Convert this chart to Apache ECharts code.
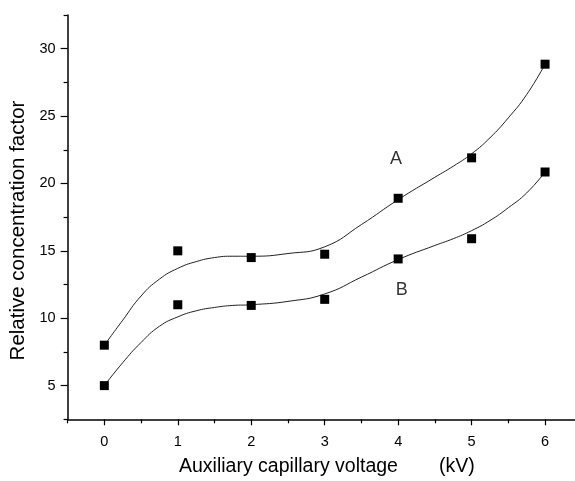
<!DOCTYPE html>
<html>
<head>
<meta charset="utf-8">
<script src="https://cdn.jsdelivr.net/npm/echarts@6/dist/echarts.min.js"></script>
<style>
html,body{margin:0;padding:0;background:#fff;}
#c{width:575px;height:481px;}
</style>
</head>
<body>
<div id="c"></div>
<script>
// measured points
const voltages = [0, 1, 2, 3, 4, 5, 6];
const seriesA = [8.0, 15.0, 14.5, 14.75, 18.9, 21.9, 28.85];
const seriesB = [5.0, 11.0, 10.95, 11.4, 14.4, 15.9, 20.85];
// fitted curves
const curveAX = [0, 0.25, 0.5, 0.75, 1, 1.25, 1.5, 1.75, 2, 2.5, 3, 3.5, 4, 4.5, 4.75, 5, 5.25, 5.5, 5.75, 6];
const curveA  = [8.0, 9.85, 11.65, 12.9, 13.7, 14.2, 14.5, 14.6, 14.6, 14.8, 15.3, 16.95, 18.8, 20.46, 21.28, 22.2, 23.39, 24.87, 26.6, 28.85];
const curveBX = [0, 0.25, 0.5, 0.75, 1, 1.25, 1.5, 1.75, 2, 2.5, 3, 3.5, 4, 4.5, 4.75, 5, 5.25, 5.5, 5.75, 6];
const curveB  = [5.0, 6.7, 8.2, 9.4, 10.1, 10.55, 10.8, 10.95, 11.0, 11.25, 11.8, 13.05, 14.35, 15.4, 15.9, 16.5, 17.25, 18.2, 19.3, 20.85];
// tick values
const xMajor = [0, 1, 2, 3, 4, 5, 6];
const xMinor = [-0.5, 0.5, 1.5, 2.5, 3.5, 4.5, 5.5, 6.5];
const yMajor = [5, 10, 15, 20, 25, 30];
const yMinor = [2.5, 7.5, 12.5, 17.5, 22.5, 27.5, 32.5];
// texts
const xTitle = 'Auxiliary capillary voltage';
const xUnit = '(kV)';
const yTitle = 'Relative concentration factor';
const labelNames = ['A', 'B'];
const labelPos = [[3.97, 21.83], [4.05, 12.07]];

const zip = (xs, ys) => xs.map((x, i) => [x, ys[i]]);
const FONT = 'Liberation Sans, Arial, sans-serif';

const chart = echarts.init(document.getElementById('c'), null, {renderer: 'canvas'});
const axisCommon = {
  type: 'value',
  splitLine: {show: false},
};
chart.setOption({
  animation: false,
  backgroundColor: '#fff',
  grid: {left: 67.6, right: -6.8, top: 15, bottom: 61.7, containLabel: false, outerBoundsMode: 'none'},
  xAxis: [
    Object.assign({}, axisCommon, {
      min: -0.5, max: 6.5,
      axisLine: {show: true, onZero: false, lineStyle: {color: '#000', width: 1.5}},
      axisTick: {show: true, customValues: xMajor, length: 6, lineStyle: {color: '#000', width: 1.2}},
      axisLabel: {show: true, customValues: xMajor, margin: 15, color: '#000', fontSize: 14.5, fontFamily: FONT}
    }),
    Object.assign({}, axisCommon, {
      min: -0.5, max: 6.5, position: 'bottom',
      axisLine: {show: false, onZero: false},
      axisTick: {show: true, customValues: xMinor, length: 4, lineStyle: {color: '#000', width: 1.2}},
      axisLabel: {show: false}
    })
  ],
  yAxis: [
    Object.assign({}, axisCommon, {
      min: 2.5, max: 32.5,
      axisLine: {show: true, onZero: false, lineStyle: {color: '#000', width: 1.5}},
      axisTick: {show: true, customValues: yMajor, length: 7, lineStyle: {color: '#000', width: 1.2}},
      axisLabel: {show: true, customValues: yMajor, margin: 12, color: '#000', fontSize: 14.5, fontFamily: FONT}
    }),
    Object.assign({}, axisCommon, {
      min: 2.5, max: 32.5, position: 'left',
      axisLine: {show: false, onZero: false},
      axisTick: {show: true, customValues: yMinor, length: 4, lineStyle: {color: '#000', width: 1.2}},
      axisLabel: {show: false}
    })
  ],
  graphic: [
    {type: 'text', left: 179, top: 457,
     style: {text: xTitle, fill: '#000', font: '19.5px ' + FONT}},
    {type: 'text', left: 439, top: 457,
     style: {text: xUnit, fill: '#000', font: '19.5px ' + FONT}},
    {type: 'text', x: 18.5, y: 230.5, rotation: Math.PI / 2,
     style: {text: yTitle, fill: '#000', font: '20.5px ' + FONT, align: 'center', verticalAlign: 'middle'}}
  ],
  series: [
    {type: 'line', data: zip(curveAX, curveA), smooth: true, showSymbol: false,
     lineStyle: {color: '#222', width: 1}, z: 2},
    {type: 'line', data: zip(curveBX, curveB), smooth: true, showSymbol: false,
     lineStyle: {color: '#222', width: 1}, z: 2},
    {type: 'scatter', data: zip(voltages, seriesA), symbol: 'rect', symbolSize: 9,
     itemStyle: {color: '#000', opacity: 1}, z: 3},
    {type: 'scatter', data: zip(voltages, seriesB), symbol: 'rect', symbolSize: 9,
     itemStyle: {color: '#000', opacity: 1}, z: 3},
    {type: 'scatter', data: labelPos.map((p, i) => ({value: p, name: labelNames[i]})),
     symbolSize: 0,
     label: {show: true, position: 'inside', formatter: '{b}', color: '#000', fontSize: 18, fontFamily: FONT},
     z: 4}
  ]
});
</script>
</body>
</html>
